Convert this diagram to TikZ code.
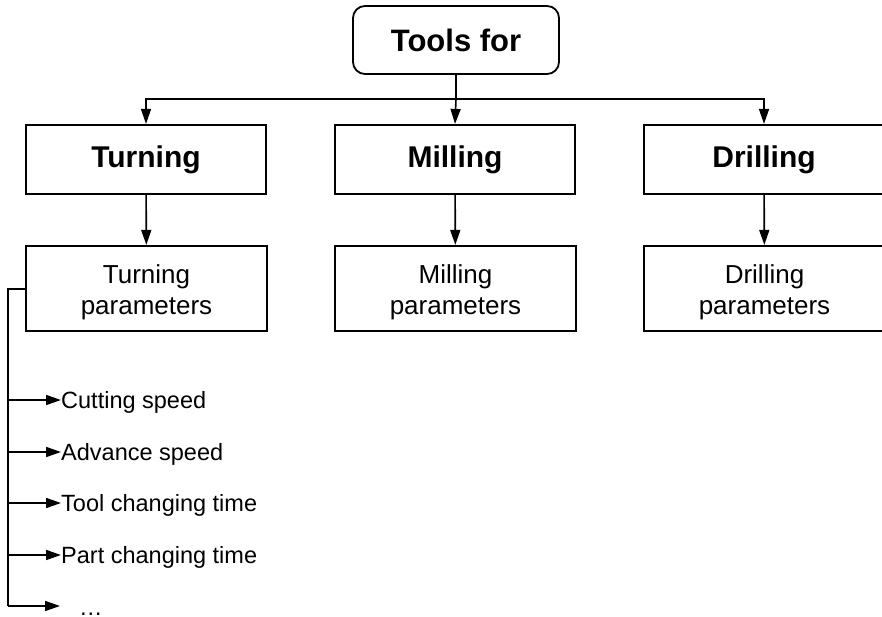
\documentclass[tikz,border=0pt]{standalone}
\usepackage{fontspec}
\setmainfont{Liberation Sans}
\usetikzlibrary{arrows.meta}
\newcommand{\firstline}{\rule{0pt}{27pt}}
\tikzset{
  x=1pt, y=-1pt,
  conn/.style={line width=1.6pt, -{Triangle[length=15pt,width=10pt]}},
  plain/.style={line width=1.6pt},
  topbox/.style={draw, line width=1.8pt, rounded corners=12pt, minimum width=206pt,
    minimum height=68pt, inner sep=0pt, font=\fontsize{31}{36}\selectfont\bfseries},
  kindbox/.style={draw, line width=2.2pt, minimum width=240pt, minimum height=69pt,
    inner sep=0pt, font=\fontsize{30}{36}\selectfont\bfseries},
  parbox/.style={draw, line width=2.2pt, minimum width=241pt, minimum height=85pt,
    inner sep=0pt, align=center, font=\fontsize{26}{31}\selectfont},
  item/.style={anchor=west, inner sep=0pt, text height=17pt, text depth=0pt,
    font=\fontsize{23.5}{28}\selectfont},
}
\begin{document}
\begin{tikzpicture}
\useasboundingbox[fill=white] (0,0) rectangle (882,617);

% header
\node[topbox] (top) at (456,40) {Tools for};

% machining processes
\node[kindbox] (turn) at (146,159.5) {Turning};
\node[kindbox] (mill) at (455,159.5) {Milling};
\node[kindbox] (drill) at (764,159.5) {Drilling};

% parameter boxes
\node[parbox] (tpar) at (146.5,288.5) {\firstline Turning\\parameters};
\node[parbox] (mpar) at (455.5,288.5) {\firstline Milling\\parameters};
\node[parbox] (dpar) at (764.5,288.5) {\firstline Drilling\\parameters};

% distribution bus below the header
\coordinate (bus) at (456,99);
\draw[conn] (top.south) -- (bus) -| (turn.north);
\draw[conn] (bus) -| (drill.north);
\draw[conn] (bus) -- (mill.north);

\draw[conn] (turn) -- (tpar);
\draw[conn] (mill) -- (mpar);
\draw[conn] (drill) -- (dpar);

% list of turning parameters
\node[item] (cs) at (61,400) {Cutting speed};
\node[item] (as) at (61,452) {Advance speed};
\node[item] (tc) at (61,503) {Tool changing time};
\node[item] (pc) at (61,555) {Part changing time};
\node[item] (more) at (79,607) {…};
\coordinate (moreend) at (60,606);

\coordinate (corner) at (8,289);
\coordinate (foot) at (8,606);
\draw[plain] (tpar.west |- corner) -- (corner) -- (foot);
\draw[conn] (corner |- cs.west) -- (cs.west);
\draw[conn] (corner |- as.west) -- (as.west);
\draw[conn] (corner |- tc.west) -- (tc.west);
\draw[conn] (corner |- pc.west) -- (pc.west);
\draw[conn] (foot) -- (moreend);
\end{tikzpicture}
\end{document}
